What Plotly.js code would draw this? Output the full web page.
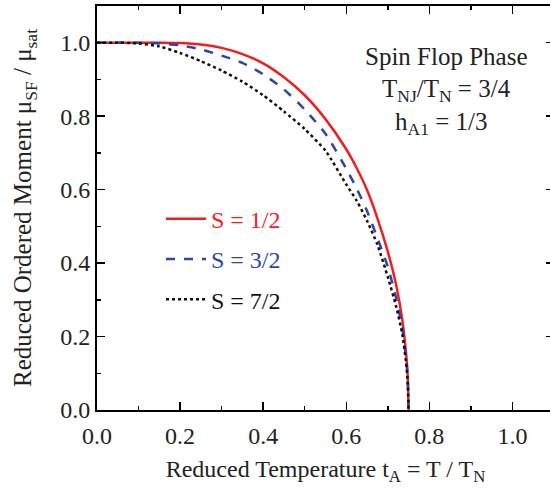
<!DOCTYPE html>
<html>
<head>
<meta charset="utf-8">
<script src="https://cdn.plot.ly/plotly-3.0.1.min.js"></script>
<style>
html,body{margin:0;padding:0;overflow:hidden;background:#fff;width:550px;height:497px;}
#chart{width:554px;height:497px;}
</style>
</head>
<body>
<div id="chart"></div>
<script>
// Reduced temperature t_A = T / T_N
const tA = [0, 0.05, 0.1, 0.15, 0.2, 0.25, 0.3, 0.35, 0.4, 0.45, 0.5, 0.55, 0.6, 0.625, 0.65, 0.675, 0.7, 0.72, 0.735, 0.745, 0.748, 0.75];
// Reduced ordered moment mu_SF / mu_sat
const mS12 = [1, 1, 1, 1.0, 0.999, 0.995, 0.986, 0.969, 0.944, 0.906, 0.857, 0.792, 0.710, 0.659, 0.599, 0.522, 0.431, 0.341, 0.244, 0.141, 0.089, 0];
const mS32 = [1, 1, 1, 0.998, 0.993, 0.982, 0.965, 0.945, 0.914, 0.873, 0.818, 0.752, 0.657, 0.603, 0.542, 0.468, 0.390, 0.305, 0.221, 0.128, 0.080, 0];
const mS72 = [1, 1, 0.998, 0.99, 0.972, 0.950, 0.924, 0.894, 0.857, 0.813, 0.765, 0.706, 0.614, 0.570, 0.515, 0.450, 0.362, 0.282, 0.205, 0.118, 0.074, 0];
const seriesNames = ["S = 1/2", "S = 3/2", "S = 7/2"];
const seriesColors = ["#f01e1e", "#2b45a8", "#111111"];
const seriesDash = ["solid", "dash", "dot"];
const seriesData = [mS12, mS32, mS72];

const font = "Liberation Serif, Times New Roman, serif";

const traces = seriesData.map((m, i) => ({
  x: tA, y: m, type: "scatter", mode: "lines",
  name: '<span style="color:' + seriesColors[i] + '">' + seriesNames[i] + '</span>',
  legendgroup: "g" + i,
  line: {color: seriesColors[i], width: 2.5, dash: seriesDash[i], shape: "spline", smoothing: 0.6}
}));

const axisCommon = {
  showgrid: false, zeroline: false, showline: true, linecolor: "#000", linewidth: 2,
  mirror: "ticks", ticks: "inside", ticklen: 8, tickwidth: 1.5, tickcolor: "#000",
  tickfont: {family: font, size: 24, color: "#222"},
  minor: {ticks: "inside", ticklen: 4, tickwidth: 1.5, tickcolor: "#000"}
};

const layout = {
  width: 554, height: 497,
  margin: {l: 97, r: 0, t: 6, b: 87},
  paper_bgcolor: "#fff", plot_bgcolor: "#fff",
  font: {family: font, color: "#222"},
  xaxis: Object.assign({}, axisCommon, {
    range: [0, 1.1], tickvals: [0, 0.2, 0.4, 0.6, 0.8, 1.0],
    ticktext: ["0.0", "0.2", "0.4", "0.6", "0.8", "1.0"],
    ticklabelstandoff: 3,
    minor: Object.assign({}, axisCommon.minor, {tickvals: [0.1, 0.3, 0.5, 0.7, 0.9, 1.1]}),
    title: {text: "Reduced Temperature t<sub>A</sub> = T / T<sub>N</sub>", font: {family: font, size: 24, color: "#222"}, standoff: 12}
  }),
  yaxis: Object.assign({}, axisCommon, {
    range: [0, 1.1], tickvals: [0, 0.2, 0.4, 0.6, 0.8, 1.0],
    ticktext: ["0.0", "0.2", "0.4", "0.6", "0.8", "1.0"],
    minor: Object.assign({}, axisCommon.minor, {tickvals: [0.1, 0.3, 0.5, 0.7, 0.9]}),
    title: {text: "Reduced Ordered Moment μ<sub>SF</sub> / μ<sub>sat</sub>", font: {family: font, size: 25, color: "#222"}, standoff: 21}
  }),
  showlegend: true,
  legend: {x: 0.14, y: 0.528, xanchor: "left", yanchor: "top", bgcolor: "rgba(0,0,0,0)",
    font: {family: font, size: 24}, tracegroupgap: 6, itemwidth: 40},
  annotations: [
    {xref: "paper", yref: "paper", x: 0.765, y: 0.875, xanchor: "center", yanchor: "middle", text: "Spin Flop Phase", showarrow: false, font: {family: font, size: 25, color: "#222"}},
    {xref: "paper", yref: "paper", x: 0.765, y: 0.792, xanchor: "center", yanchor: "middle", text: "T<sub>NJ</sub>/T<sub>N</sub> = 3/4", showarrow: false, font: {family: font, size: 25, color: "#222"}},
    {xref: "paper", yref: "paper", x: 0.752, y: 0.708, xanchor: "center", yanchor: "middle", text: "h<sub>A1</sub> = 1/3", showarrow: false, font: {family: font, size: 25, color: "#222"}}
  ]
};

Plotly.newPlot("chart", traces, layout, {displayModeBar: false, staticPlot: true});
</script>
</body>
</html>
